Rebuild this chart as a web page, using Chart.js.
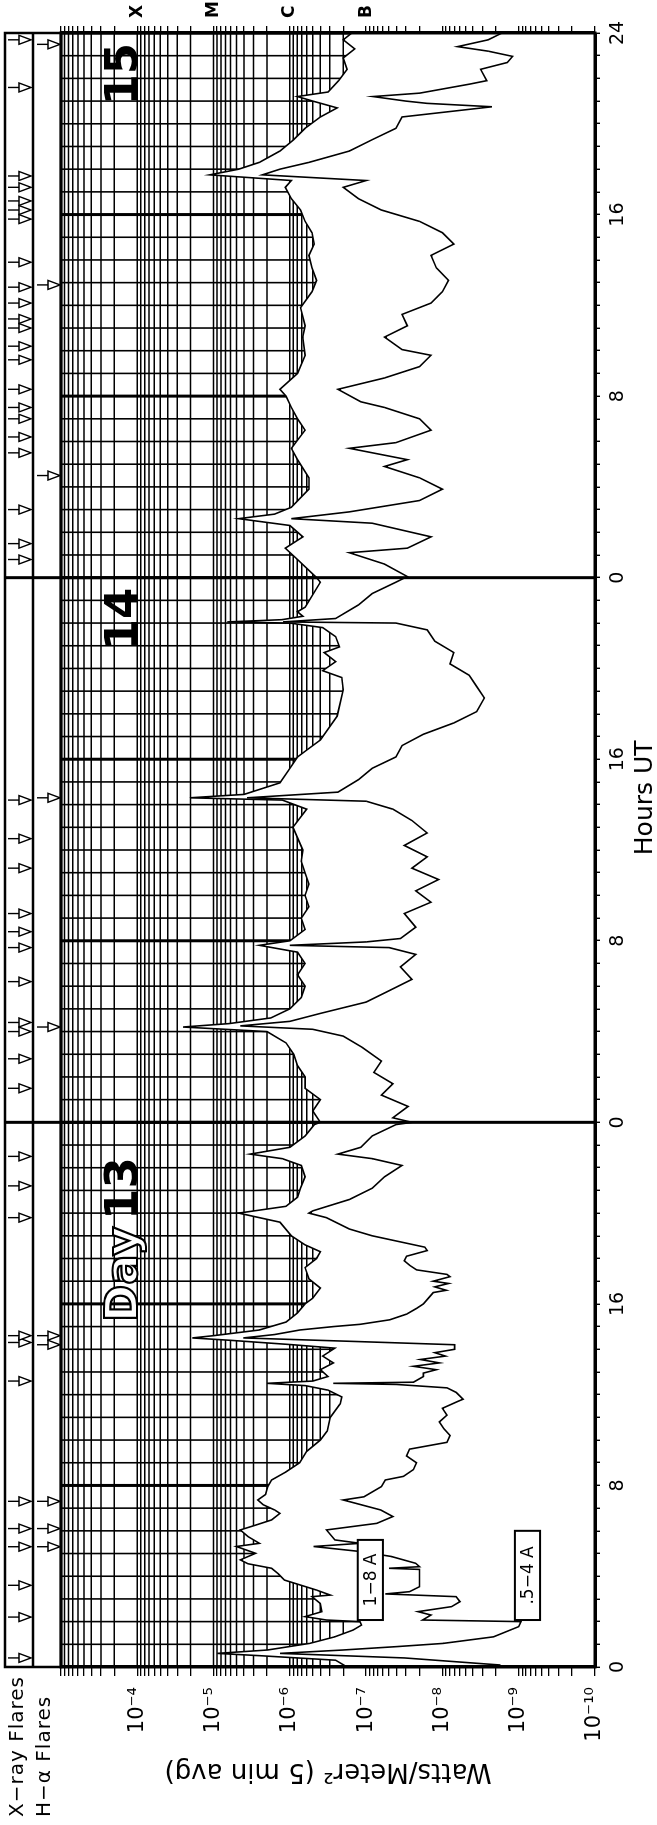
<!DOCTYPE html>
<html>
<head>
<meta charset="utf-8">
<script src="https://cdn.jsdelivr.net/npm/chart.js@4.4.1/dist/chart.umd.min.js"></script>
<style>
html, body { margin: 0; padding: 0; background: #fff; overflow: hidden; }
#box { position: absolute; left: 0; top: 1825px; width: 1825px; height: 657px;
       transform-origin: 0 0; transform: rotate(-90deg); }
</style>
</head>
<body>
<div id="box"><canvas id="goes" width="1825" height="657"></canvas></div>
<script>
// hours since 0 UT of day 13 and log10 of the flux
const hours18 = [
  0.0,0.3,0.5,0.6,0.75,1.04,1.33,1.63,1.85,2.0,
  2.07,2.22,2.44,2.8,3.1,3.17,3.39,3.83,4.1,4.35,
  4.55,4.72,5.01,5.31,5.45,5.75,6.04,6.25,6.48,6.77,
  6.92,7.15,7.36,7.6,7.95,8.24,8.6,9.0,9.5,10.0,
  10.4,11.0,11.6,11.9,12.2,12.4,12.5,12.6,12.8,13.1,
  13.4,13.7,14.05,14.2,14.4,14.5,14.6,14.85,15.2,15.6,
  16.0,16.25,16.7,17.1,17.6,18.0,18.3,18.6,19.0,19.6,
  20.0,20.3,20.7,21.1,21.6,22.1,22.4,22.6,22.9,23.4,
  23.9,
  24.0,24.5,25.0,25.5,26.0,26.5,27.0,27.5,28.0,28.2,
  28.35,28.6,29.0,29.5,30.0,30.5,31.0,31.5,31.8,32.0,
  32.5,33.0,33.5,34.0,34.5,35.0,35.5,36.0,37.0,37.8,
  38.2,38.3,38.45,38.96,39.5,40.1,40.4,40.85,41.9,43.06,
  43.6,43.9,44.3,44.7,44.95,45.4,45.8,46.0,46.05,46.15,
  46.3,46.5,46.7,47.8,
  48.0,48.8,49.3,49.8,50.3,50.6,50.8,51.1,51.9,52.4,
  53.2,53.7,54.5,55.0,55.5,56.0,56.3,57.0,57.8,58.6,
  59.1,59.9,60.6,61.1,61.65,62.2,62.7,63.2,63.7,64.2,
  64.7,65.2,65.5,65.75,66.0,66.3,66.8,67.3,67.8,68.3,
  68.7,69.0,69.2,69.4,69.9,70.4,70.9,71.3,71.7,72.0];
const log18 = [
  -6.75,-6.6,-5.6,-5.05,-5.71,-6.26,-6.59,-6.83,-6.94,-6.92,
  -6.48,-6.2,-6.42,-6.4,-6.29,-6.53,-6.35,-5.93,-5.85,-5.76,
  -5.45,-5.35,-5.55,-5.3,-5.6,-5.45,-5.35,-5.55,-5.76,-5.87,
  -5.8,-5.65,-5.58,-5.68,-5.71,-5.76,-5.95,-6.13,-6.22,-6.4,
  -6.49,-6.53,-6.66,-6.68,-6.5,-6.2,-5.7,-6.3,-6.5,-6.4,
  -6.57,-6.43,-6.59,-6.04,-5.2,-4.72,-5.0,-5.6,-5.95,-6.1,
  -6.2,-6.3,-6.4,-6.25,-6.2,-6.35,-6.4,-6.2,-6.02,-5.87,
  -5.33,-5.95,-6.1,-6.14,-6.2,-6.15,-5.9,-5.48,-6.0,-6.2,
  -6.32,
  -6.4,-6.3,-6.4,-6.2,-6.2,-6.1,-6.05,-5.95,-5.7,-4.6,
  -5.2,-5.75,-6.0,-6.15,-6.2,-6.1,-6.2,-6.1,-5.6,-6.0,
  -6.2,-6.15,-6.25,-6.2,-6.25,-6.2,-6.15,-6.17,-6.04,-6.22,
  -5.9,-4.69,-5.4,-5.87,-5.98,-6.1,-6.22,-6.4,-6.62,-6.7,
  -6.68,-6.43,-6.6,-6.45,-6.65,-6.6,-6.43,-6.0,-5.18,-5.9,
  -6.17,-6.1,-6.2,-6.4,
  -6.35,-6.1,-5.94,-6.17,-6.0,-5.33,-5.8,-6.02,-6.25,-6.25,
  -6.1,-6.02,-6.2,-6.1,-6.02,-5.95,-5.87,-6.1,-6.2,-6.17,
  -6.2,-6.14,-6.29,-6.35,-6.29,-6.25,-6.32,-6.29,-6.2,-6.14,
  -6.02,-5.94,-6.02,-4.95,-5.33,-5.6,-5.87,-6.05,-6.2,-6.4,
  -6.62,-6.3,-6.1,-6.5,-6.64,-6.75,-6.7,-6.85,-6.7,-6.81];

const hours54 = [
  0.0,0.09,0.4,0.6,0.75,0.9,1.04,1.33,1.78,2.0,
  2.07,2.29,2.44,2.66,2.88,3.1,3.22,3.32,3.54,3.83,
  4.3,4.35,4.42,4.57,4.87,5.09,5.31,5.45,5.6,6.04,
  6.33,6.63,6.92,7.36,7.5,7.95,8.24,8.4,8.7,9.0,
  9.3,9.6,9.9,10.2,10.5,10.8,11.1,11.4,11.7,11.8,
  12.1,12.3,12.45,12.5,12.55,12.8,12.95,13.1,13.25,13.4,
  13.55,13.7,13.85,14.0,14.2,14.35,14.5,14.65,14.85,15.0,
  15.1,15.3,15.55,15.8,16.0,16.5,16.6,16.75,16.9,17.0,
  17.2,17.3,17.5,17.7,17.9,18.1,18.35,18.5,19.0,19.3,
  19.8,20.0,20.1,20.6,21.1,21.6,22.1,22.4,22.6,22.9,
  23.4,23.9,
  24.0,24.2,24.7,25.2,25.7,26.2,26.7,27.3,27.8,28.1,
  28.25,28.45,28.8,29.3,29.8,30.3,30.85,31.4,31.7,31.8,
  31.95,32.1,32.6,33.2,33.7,34.2,34.7,35.2,35.7,36.2,
  36.75,37.3,37.8,38.15,38.3,38.55,39.1,39.6,40.1,40.6,
  41.1,41.6,42.1,42.7,43.2,43.7,44.2,44.7,45.2,45.7,
  46.0,46.05,46.2,46.8,47.3,47.8,
  48.05,48.6,49.1,49.3,49.8,50.4,50.6,50.9,51.4,51.9,
  52.4,52.9,53.2,53.7,53.95,54.5,55.0,55.5,55.75,56.3,
  56.8,57.3,57.8,58.05,58.6,59.1,59.6,60.1,60.6,61.1,
  61.65,62.2,62.7,63.2,63.7,64.2,64.7,65.2,65.5,65.75,
  66.0,66.3,66.8,67.3,67.8,68.3,68.75,68.9,69.0,69.2,
  69.35,69.75,69.9,70.4,70.7,70.97,71.2,71.4,71.7,72.0];
const log54 = [
  -8.75,-8.75,-7.5,-5.87,-6.7,-7.41,-8.01,-8.67,-9.0,-9.03,
  -7.74,-7.85,-7.68,-8.12,-8.23,-8.18,-7.25,-7.57,-7.7,-7.7,
  -7.7,-7.3,-7.7,-7.65,-7.33,-6.92,-6.31,-6.92,-6.59,-6.48,
  -7.14,-7.35,-7.19,-6.7,-6.97,-7.2,-7.25,-7.49,-7.62,-7.66,
  -7.53,-7.57,-8.06,-8.1,-8.02,-7.96,-8.06,-8.0,-8.2,-8.27,
  -8.18,-8.06,-7.4,-6.57,-7.62,-7.75,-7.75,-7.92,-7.62,-7.96,
  -7.71,-8.04,-7.9,-8.16,-8.16,-6.8,-5.39,-5.8,-6.13,-6.57,
  -6.92,-7.31,-7.53,-7.66,-7.75,-7.88,-8.05,-7.9,-8.08,-7.88,
  -8.1,-8.06,-7.66,-7.57,-7.5,-7.53,-7.8,-7.77,-7.08,-6.78,
  -6.48,-6.25,-6.3,-6.78,-7.08,-7.24,-7.47,-7.08,-6.63,-6.93,
  -7.08,-7.39,
  -7.6,-7.35,-7.55,-7.2,-7.35,-7.1,-7.2,-6.95,-6.7,-6.3,
  -5.35,-6.0,-6.4,-7.0,-7.3,-7.6,-7.45,-7.65,-7.3,-6.0,
  -7.0,-7.45,-7.65,-7.5,-7.85,-7.65,-7.95,-7.6,-7.8,-7.5,
  -7.8,-7.6,-7.35,-7.0,-5.44,-6.63,-6.9,-7.08,-7.39,-7.47,
  -7.75,-8.15,-8.45,-8.55,-8.45,-8.35,-8.1,-8.15,-7.9,-7.8,
  -7.39,-5.91,-6.6,-6.9,-7.08,-7.39,
  -7.54,-7.24,-6.78,-7.54,-7.85,-7.08,-6.02,-6.78,-7.7,-8.0,
  -7.7,-7.24,-7.54,-6.78,-7.39,-7.85,-7.7,-7.24,-6.93,-6.63,
  -7.24,-7.7,-7.85,-7.47,-7.24,-7.54,-7.47,-7.85,-8.0,-8.08,
  -7.92,-7.85,-8.15,-8.0,-7.7,-7.2,-6.9,-6.7,-7.0,-5.64,
  -5.87,-6.25,-6.78,-7.08,-7.39,-7.47,-8.65,-7.8,-7.52,-7.09,
  -7.7,-8.36,-8.58,-8.5,-8.85,-8.92,-8.6,-8.2,-8.6,-8.78];

const xrayFlareHours = [0.4,2.2,3.6,5.3,6.1,7.3,12.6,14.3,14.6,19.8,21.2,22.5,25.5,26.8,28.0,28.4,30.2,31.7,32.4,33.2,35.2,36.5,38.2,48.8,49.5,51.0,53.5,54.2,55.0,55.5,56.3,57.6,58.2,59.0,59.4,60.1,60.8,61.9,63.8,64.2,64.6,65.2,65.7,69.6,71.7];
const haFlareHours = [5.3,6.1,7.3,14.2,14.6,28.2,38.3,52.5,60.9,71.5];

const hourLabelTicks = [0, 8, 16, 24, 32, 40, 48, 56, 64, 72];
const hourLabels = ['0', '8', '16', '0', '8', '16', '0', '8', '16', '24'];
const fluxDecades = [1e-4, 1e-5, 1e-6, 1e-7, 1e-8, 1e-9, 1e-10];
const fluxDecadeLabels = ['10⁻⁴', '10⁻⁵', '10⁻⁶', '10⁻⁷', '10⁻⁸', '10⁻⁹', '10⁻¹⁰'];
const classDecades = [1e-4, 1e-5, 1e-6, 1e-7];
const classLetters = ['X', 'M', 'C', 'B'];
const dayLabels = [{text: 'Day', at: 15.2, outline: true}, {text: '13', at: 19.7}, {text: '14', at: 44.8}, {text: '15', at: 68.8}];
const hoursTitle = {text: 'Hours UT', at: 38.3};

const hourTicks = [];
for (let h = 0; h <= 72; h++) hourTicks.push(h);
const fluxTicks = [];
for (let e = -10; e < -3; e++) for (let k = 1; k < 10; k++) fluxTicks.push(k * Math.pow(10, e));
fluxTicks.push(1e-3);

function sameDecade(v, d) { return Math.abs(Math.log10(v) - Math.log10(d)) < 1e-6; }

const FONT = "'DejaVu Sans', 'Liberation Sans', sans-serif";

const gridUnderCurve = {
  id: 'gridUnderCurve',
  beforeDatasetsDraw(chart) {
    const {ctx, chartArea: a, scales: {x, y}} = chart;
    const pts = chart.getDatasetMeta(0).data;
    ctx.save();
    ctx.beginPath();
    ctx.moveTo(pts[0].x, a.top);
    pts.forEach(p => ctx.lineTo(p.x, p.y));
    ctx.lineTo(pts[pts.length - 1].x, a.top);
    ctx.closePath();
    ctx.clip();
    ctx.strokeStyle = '#000';
    hourTicks.forEach(h => {
      const px = x.getPixelForValue(h);
      ctx.lineWidth = h % 8 === 0 ? 3 : 1.6;
      ctx.beginPath(); ctx.moveTo(px, a.top); ctx.lineTo(px, a.bottom); ctx.stroke();
    });
    ctx.lineWidth = 1.5;
    fluxTicks.forEach(v => {
      const py = y.getPixelForValue(v);
      ctx.beginPath(); ctx.moveTo(a.left, py); ctx.lineTo(a.right, py); ctx.stroke();
    });
    ctx.restore();
  },
  afterDatasetsDraw(chart) {
    const {ctx, chartArea: a, scales: {x, y}} = chart;
    ctx.save();
    ctx.strokeStyle = '#000';
    ctx.fillStyle = '#000';
    // day boundaries run through the flare strip
    ctx.lineWidth = 3;
    [24, 48].forEach(h => {
      const px = x.getPixelForValue(h);
      ctx.beginPath(); ctx.moveTo(px, 5); ctx.lineTo(px, a.bottom); ctx.stroke();
    });
    ctx.strokeRect(a.left, a.top, a.right - a.left, a.bottom - a.top);
    ctx.lineWidth = 2.5;
    ctx.strokeRect(a.left, 5, a.right - a.left, a.top - 5);
    ctx.beginPath(); ctx.moveTo(a.left, 33); ctx.lineTo(a.right, 33); ctx.stroke();

    // flare markers
    ctx.lineWidth = 1.4;
    const marker = (h, v0, v1, v2) => {
      const px = x.getPixelForValue(h);
      ctx.beginPath(); ctx.moveTo(px, v0); ctx.lineTo(px, v1); ctx.stroke();
      ctx.beginPath(); ctx.moveTo(px - 4.5, v1); ctx.lineTo(px + 4.5, v1); ctx.lineTo(px, v2); ctx.closePath();
      ctx.fillStyle = '#fff'; ctx.fill(); ctx.stroke();
    };
    xrayFlareHours.forEach(h => marker(h, 8, 19, 31));
    haFlareHours.forEach(h => marker(h, 37, 48, 60));

    ctx.fillStyle = '#000';
    ctx.font = '20px ' + FONT;
    ctx.textAlign = 'left';
    ctx.textBaseline = 'middle';
    ctx.letterSpacing = '1px';
    ctx.fillText('X−ray Flares', 8, 18);
    ctx.fillText('H−α Flares', 8, 45);
    ctx.letterSpacing = '0px';

    ctx.font = '25px ' + FONT;
    ctx.textAlign = 'center';
    ctx.fillText(hoursTitle.text, x.getPixelForValue(hoursTitle.at), 645);

    ctx.font = 'bold 45px ' + FONT;
    ctx.textAlign = 'left';
    ctx.textBaseline = 'alphabetic';
    const base = y.getPixelForValue(1e-4);
    dayLabels.forEach(d => {
      const px = x.getPixelForValue(d.at);
      if (d.outline) {
        ctx.fillStyle = '#fff'; ctx.fillText(d.text, px, base);
        ctx.lineWidth = 2.2; ctx.strokeText(d.text, px, base);
      } else {
        ctx.fillStyle = '#000'; ctx.fillText(d.text, px, base);
      }
    });

    // channel tags
    ctx.font = '17px ' + FONT;
    ctx.lineWidth = 2;
    ctx.textAlign = 'center';
    ctx.textBaseline = 'middle';
    [['1−8 A', 2.07, 5.6, 10 ** -6.89, 10 ** -7.22], ['.5−4 A', 2.07, 6.0, 10 ** -8.95, 10 ** -9.28]].forEach(t => {
      const x0 = x.getPixelForValue(t[1]), x1 = x.getPixelForValue(t[2]);
      const y0 = y.getPixelForValue(t[3]), y1 = y.getPixelForValue(t[4]);
      ctx.fillStyle = '#fff';
      ctx.fillRect(x0, y0, x1 - x0, y1 - y0);
      ctx.strokeRect(x0, y0, x1 - x0, y1 - y0);
      ctx.fillStyle = '#000';
      ctx.fillText(t[0], (x0 + x1) / 2, (y0 + y1) / 2 + 1);
    });
    ctx.restore();
  }
};

new Chart(document.getElementById('goes'), {
  type: 'line',
  data: {
    datasets: [
      { label: '1-8 A', data: hours18.map((h, i) => ({x: h, y: Math.pow(10, log18[i])})),
        borderColor: '#000', borderWidth: 1.6, pointRadius: 0, fill: false },
      { label: '.5-4 A', data: hours54.map((h, i) => ({x: h, y: Math.pow(10, log54[i])})),
        borderColor: '#000', borderWidth: 1.6, pointRadius: 0, fill: false }
    ]
  },
  options: {
    responsive: false,
    animation: false,
    events: [],
    layout: { padding: { top: 61, left: 0, right: 0, bottom: 0 } },
    plugins: { legend: { display: false }, tooltip: { enabled: false } },
    scales: {
      x: {
        type: 'linear', min: 0, max: 72, position: 'bottom',
        afterBuildTicks: s => { s.ticks = hourTicks.map(v => ({value: v})); },
        afterFit: s => { s.height = 62; },
        ticks: {
          autoSkip: false, maxRotation: 0, padding: 7, color: '#000',
          font: { family: FONT, size: 19 },
          callback: v => { const i = hourLabelTicks.indexOf(v); return i < 0 ? '' : hourLabels[i]; }
        },
        grid: { drawOnChartArea: false, color: '#000', lineWidth: 1.4, tickLength: 5 },
        border: { display: true, color: '#000', width: 3 }
      },
      y: {
        type: 'logarithmic', min: 1e-10, max: 1e-3, position: 'left',
        afterBuildTicks: s => { s.ticks = fluxTicks.map(v => ({value: v})); },
        afterFit: s => { s.width = 158; },
        ticks: {
          autoSkip: false, padding: 11, color: '#000',
          font: { family: FONT, size: 21 },
          callback: v => { const i = fluxDecades.findIndex(d => sameDecade(v, d)); return i < 0 ? '' : fluxDecadeLabels[i]; }
        },
        grid: { drawOnChartArea: false, color: '#000', lineWidth: 1.3, tickLength: 9 },
        border: { display: true, color: '#000', width: 3 },
        title: { display: true, text: 'Watts/Meter² (5 min avg)', color: '#000', font: { family: FONT, size: 26 }, padding: { top: 39, bottom: 0 } }
      },
      y2: {
        type: 'logarithmic', min: 1e-10, max: 1e-3, position: 'right',
        afterBuildTicks: s => { s.ticks = fluxTicks.map(v => ({value: v})); },
        afterFit: s => { s.width = 33; },
        ticks: {
          autoSkip: false, padding: 8, color: '#000',
          font: { family: FONT, size: 17, weight: 'bold' },
          callback: v => { const i = classDecades.findIndex(d => sameDecade(v, d)); return i < 0 ? '' : classLetters[i]; }
        },
        grid: { drawOnChartArea: false, color: '#000', lineWidth: 1.3, tickLength: 7 },
        border: { display: true, color: '#000', width: 3 }
      }
    }
  },
  plugins: [gridUnderCurve]
});
</script>
</body>
</html>
